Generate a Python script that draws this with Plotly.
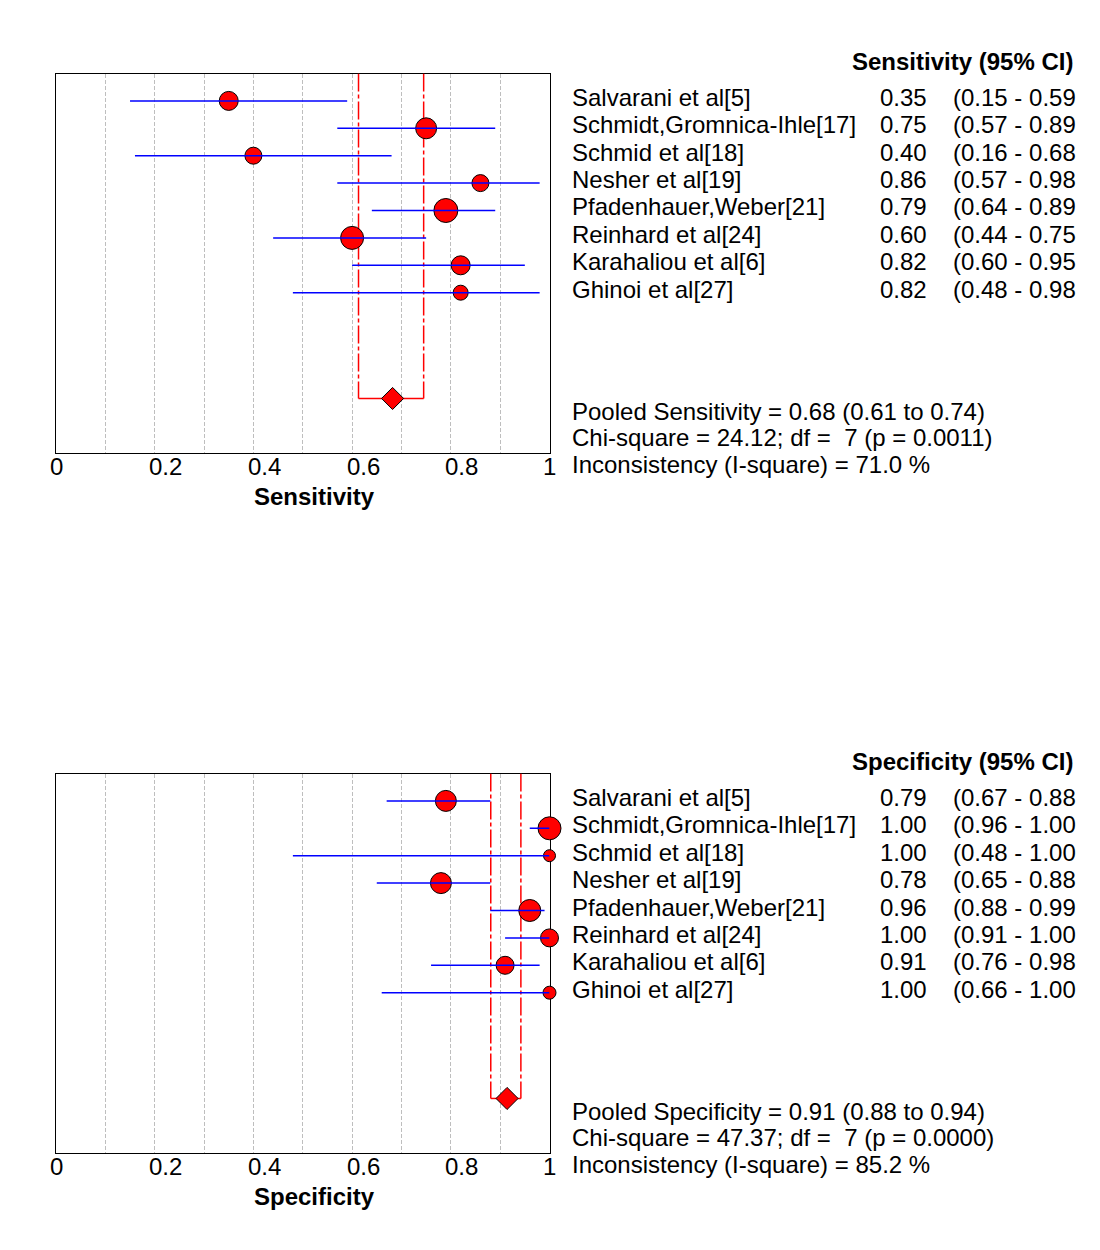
import plotly.graph_objects as go

# ---------------- data ----------------
studies = ["Salvarani et al[5]", "Schmidt,Gromnica-Ihle[17]", "Schmid et al[18]",
           "Nesher et al[19]", "Pfadenhauer,Weber[21]", "Reinhard et al[24]",
           "Karahaliou et al[6]", "Ghinoi et al[27]"]

sens = [0.35, 0.75, 0.40, 0.86, 0.79, 0.60, 0.82, 0.82]
sens_lo = [0.15, 0.57, 0.16, 0.57, 0.64, 0.44, 0.60, 0.48]
sens_hi = [0.59, 0.89, 0.68, 0.98, 0.89, 0.75, 0.95, 0.98]
sens_weight = [19, 21, 17, 17, 24, 23, 19, 15]

spec = [0.79, 1.00, 1.00, 0.78, 0.96, 1.00, 0.91, 1.00]
spec_lo = [0.67, 0.96, 0.48, 0.65, 0.88, 0.91, 0.76, 0.66]
spec_hi = [0.88, 1.00, 1.00, 0.88, 0.99, 1.00, 0.98, 1.00]
spec_weight = [21, 23, 12, 21, 22, 18, 18, 13]

pooled_sens = [0.682, 0.613, 0.745]
pooled_spec = [0.914, 0.881, 0.942]

sens_stats = ["Pooled Sensitivity = 0.68 (0.61 to 0.74)",
              "Chi-square = 24.12; df =\u00a0 7 (p = 0.0011)",
              "Inconsistency (I-square) = 71.0 %"]
spec_stats = ["Pooled Specificity = 0.91 (0.88 to 0.94)",
              "Chi-square = 47.37; df =\u00a0 7 (p = 0.0000)",
              "Inconsistency (I-square) = 85.2 %"]

tick_vals = [0, 0.2, 0.4, 0.6, 0.8, 1]
tick_text = ["0", "0.2", "0.4", "0.6", "0.8", "1"]
grid_vals = [0.1, 0.2, 0.3, 0.4, 0.5, 0.6, 0.7, 0.8, 0.9]

# ---------------- layout helpers ----------------
W, H = 1100, 1250
FONT = "Liberation Sans, Arial, sans-serif"
FS = 24
rows = list(range(1, len(studies) + 1))
POOLED_ROW = 11.86
Y_MAX = 13.85
X0, X1 = 56.0, 549.5           # plot box pixels (x)
ROW_H = 27.4


def px(x):
    return x / W


def py(y):
    return 1 - y / H


fig = go.Figure()
annotations = []

panels = [
    dict(vals=sens, lo=sens_lo, hi=sens_hi, w=sens_weight, pooled=pooled_sens,
         stats=sens_stats, header="Sensitivity (95% CI)", title="Sensitivity", top=73.5),
    dict(vals=spec, lo=spec_lo, hi=spec_hi, w=spec_weight, pooled=pooled_spec,
         stats=spec_stats, header="Specificity (95% CI)", title="Specificity", top=773.5),
]

for i, p in enumerate(panels):
    xa = "x" if i == 0 else "x2"
    ya = "y" if i == 0 else "y2"
    top = p["top"]
    bottom = top + Y_MAX * ROW_H
    pm, plo, phi = p["pooled"]

    # pooled CI reference lines (dash-dot verticals + solid base)
    for xv in (plo, phi):
        fig.add_trace(go.Scatter(x=[xv, xv], y=[0, POOLED_ROW], mode="lines",
                                 line=dict(color="#FF0000", width=1.5, dash="18px,3px,4px,3px"),
                                 xaxis=xa, yaxis=ya, hoverinfo="skip", showlegend=False,
                                 cliponaxis=False))
    fig.add_trace(go.Scatter(x=[plo, phi], y=[POOLED_ROW, POOLED_ROW], mode="lines",
                             line=dict(color="#FF0000", width=1.5),
                             xaxis=xa, yaxis=ya, hoverinfo="skip", showlegend=False))

    # study points
    fig.add_trace(go.Scatter(x=p["vals"], y=rows, mode="markers",
                             marker=dict(symbol="circle", size=p["w"], color="#FF0000",
                                         opacity=1, line=dict(color="black", width=1)),
                             xaxis=xa, yaxis=ya, showlegend=False, cliponaxis=False))
    # CI lines
    cx, cy = [], []
    for r, a, b in zip(rows, p["lo"], p["hi"]):
        cx += [a, b, None]
        cy += [r, r, None]
    fig.add_trace(go.Scatter(x=cx, y=cy, mode="lines",
                             line=dict(color="#0000FF", width=1.5),
                             xaxis=xa, yaxis=ya, showlegend=False, hoverinfo="skip",
                             cliponaxis=False))
    # pooled diamond
    fig.add_trace(go.Scatter(x=[pm], y=[POOLED_ROW], mode="markers",
                             marker=dict(symbol="diamond", size=17, color="#FF0000",
                                         opacity=1, line=dict(color="black", width=1)),
                             xaxis=xa, yaxis=ya, showlegend=False, cliponaxis=False))

    # right-hand table
    annotations.append(dict(text="<b>" + p["header"] + "</b>", x=px(1075), y=py(top - 11.9),
                            xref="paper", yref="paper", xanchor="right", yanchor="middle",
                            showarrow=False, font=dict(size=FS, family=FONT, color="black")))
    for r, name, v, a, b in zip(rows, studies, p["vals"], p["lo"], p["hi"]):
        yc = top + r * ROW_H - 3.5
        annotations.append(dict(text=name, x=px(569.5), y=py(yc), xref="paper", yref="paper",
                                xanchor="left", yanchor="middle", showarrow=False,
                                font=dict(size=FS, family=FONT, color="black")))
        annotations.append(dict(text=f"{v:.2f}", x=px(928.5), y=py(yc), xref="paper", yref="paper",
                                xanchor="right", yanchor="middle", showarrow=False,
                                font=dict(size=FS, family=FONT, color="black")))
        annotations.append(dict(text=f"({a:.2f} - {b:.2f}", x=px(951), y=py(yc), xref="paper",
                                yref="paper", xanchor="left", yanchor="middle", showarrow=False,
                                font=dict(size=FS, family=FONT, color="black")))
    for k, s in enumerate(p["stats"]):
        yc = top + 337.5 + k * 26.7
        annotations.append(dict(text=s, x=px(569.5), y=py(yc), xref="paper", yref="paper",
                                xanchor="left", yanchor="middle", showarrow=False,
                                font=dict(size=FS, family=FONT, color="black")))

    # tick labels and axis title
    for tv, tt in zip(tick_vals, tick_text):
        shift = 0 if tv in (0, 1) else 11
        annotations.append(dict(text=tt, x=tv, y=py(bottom + 13.5), xref=xa, yref="paper",
                                xanchor="center", yanchor="middle", xshift=shift, showarrow=False,
                                font=dict(size=FS, family=FONT, color="black")))
    annotations.append(dict(text="<b>" + p["title"] + "</b>", x=px(314), y=py(bottom + 43.5),
                            xref="paper", yref="paper", xanchor="center", yanchor="middle",
                            showarrow=False, font=dict(size=FS, family=FONT, color="black")))

axis_x = dict(range=[0, 1], tickvals=grid_vals, showticklabels=False, ticks="",
              showgrid=True, gridcolor="#BEBEBE", gridwidth=1, griddash="4px,2px",
              showline=True, mirror=True, linecolor="black", linewidth=1.2,
              zeroline=False, layer="below traces", fixedrange=True)
axis_y = dict(range=[Y_MAX, 0], showticklabels=False, ticks="", showgrid=False,
              showline=True, mirror=True, linecolor="black", linewidth=1.2,
              zeroline=False, layer="below traces", fixedrange=True)

t1, t2 = panels[0]["top"], panels[1]["top"]
fig.update_layout(
    width=W, height=H, margin=dict(l=0, r=0, t=0, b=0),
    paper_bgcolor="white", plot_bgcolor="white",
    font=dict(family=FONT, size=FS, color="black"),
    xaxis=dict(axis_x, domain=[px(X0), px(X1)], anchor="y"),
    yaxis=dict(axis_y, domain=[py(t1 + Y_MAX * ROW_H), py(t1)], anchor="x"),
    xaxis2=dict(axis_x, domain=[px(X0), px(X1)], anchor="y2"),
    yaxis2=dict(axis_y, domain=[py(t2 + Y_MAX * ROW_H), py(t2)], anchor="x2"),
    annotations=annotations,
    showlegend=False,
)

fig.write_html("out.html", config={"displayModeBar": False},
               post_script="document.body.style.margin='0';document.body.style.overflow='hidden';")
